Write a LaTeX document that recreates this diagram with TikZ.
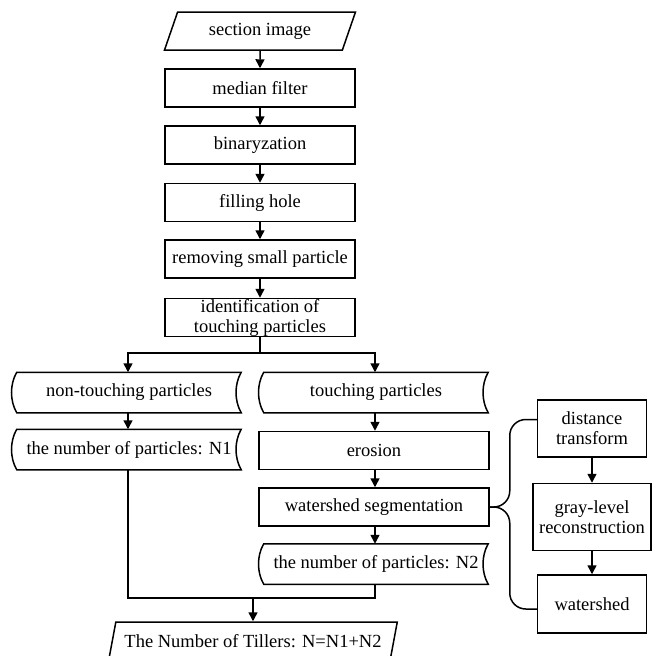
\documentclass[tikz,border=0pt]{standalone}
\usepackage{fontspec}
\setmainfont{Liberation Serif}
\usepackage{tikz}
\usetikzlibrary{arrows.meta,shapes.geometric,calc}

\newcommand{\tapeline}[1]{%
\draw (#1.north west) .. controls +(-7,12) and +(-7,-12) .. (#1.south west)
  -- (#1.south east) .. controls +(-7,-12) and +(-7,12) .. (#1.north east) -- cycle;}

\begin{document}
\begin{tikzpicture}
[x=1pt,y=-1pt, line width=1.5pt, font=\fontsize{18.5}{20}\selectfont,
arr/.style={-{Triangle[length=9pt,width=9pt]}},
proc/.style={rectangle,draw,minimum width=190,minimum height=38,inner sep=0pt},
io/.style={trapezium,trapezium left angle=63.4,trapezium right angle=116.6,
  trapezium stretches=true,draw,minimum height=38,inner sep=0pt},
tapenode/.style={rectangle,minimum width=223,minimum height=39,inner sep=0pt}]
\clip (0,0) rectangle (652,656);

\node (img) at (260,31) [io,minimum width=191] {section image};
\node (med) at (260,88) [proc] {median filter};
\node (bin) at (260,145) [proc] {binaryzation};
\node (fill) at (260,202.5) [proc] {filling hole};
\node (rem) at (260,259) [proc] {removing small particle};
\node (idt) at (260,317.5) [proc,align=center] {identification of\\touching particles};

\node (non) at (129,392.5) [tapenode] {non-touching particles};
\node (n1) at (129,449.5) [tapenode] {the number of particles: N1};
\node (tch) at (376,392.5) [tapenode] {touching particles};
\node (ero) at (374,450.5) [proc,minimum width=230] {erosion};
\node (wsg) at (374,507) [proc,minimum width=230] {watershed segmentation};
\node (n2) at (376,564) [tapenode] {the number of particles: N2};
\node (tot) at (253,641) [io,minimum width=289] {The Number of Tillers: N=N1+N2};

\node (dst) at (592,428.5) [proc,minimum width=109,minimum height=57,align=center] {distance\\transform};
\node (gry) at (592,517) [proc,minimum width=118,minimum height=67,align=center] {gray-level\\reconstruction};
\node (wat) at (592,604) [proc,minimum width=109,minimum height=58] {watershed};

\tapeline{non}
\tapeline{n1}
\tapeline{tch}
\tapeline{n2}

\coordinate (sp) at (260,353);
\coordinate (jn) at (253,598);
\coordinate (bt) at ($(dst.west)+(0,-9)$);
\coordinate (bb) at ($(wat.west)+(0,5)$);

\draw[arr] (img) -- (med);
\draw[arr] (med) -- (bin);
\draw[arr] (bin) -- (fill);
\draw[arr] (fill) -- (rem);
\draw[arr] (rem) -- (idt);
\draw (idt) -- (sp);
\draw[arr] (sp) -| (non.north -| 128,0);
\draw[arr] (sp) -| (tch.north -| 375,0);
\draw[arr] (non.south -| 128,0) -- (n1.north -| 128,0);
\draw[arr] (tch.south -| 375,0) -- (ero.north -| 375,0);
\draw[arr] (ero.south -| 375,0) -- (wsg.north -| 375,0);
\draw[arr] (wsg.south -| 375,0) -- (n2.north -| 375,0);
\draw (n1.south -| 128,0) |- (jn);
\draw (n2.south -| 375,0) |- (jn);
\draw[arr] (jn) -- (tot);

\draw[arr] (dst) -- (gry);
\draw[arr] (gry) -- (wat);
\draw[rounded corners=16] (wsg.east) -- ++(20,0) |- (bt);
\draw[rounded corners=16] (wsg.east) -- ++(20,0) |- (bb);

\end{tikzpicture}
\end{document}
